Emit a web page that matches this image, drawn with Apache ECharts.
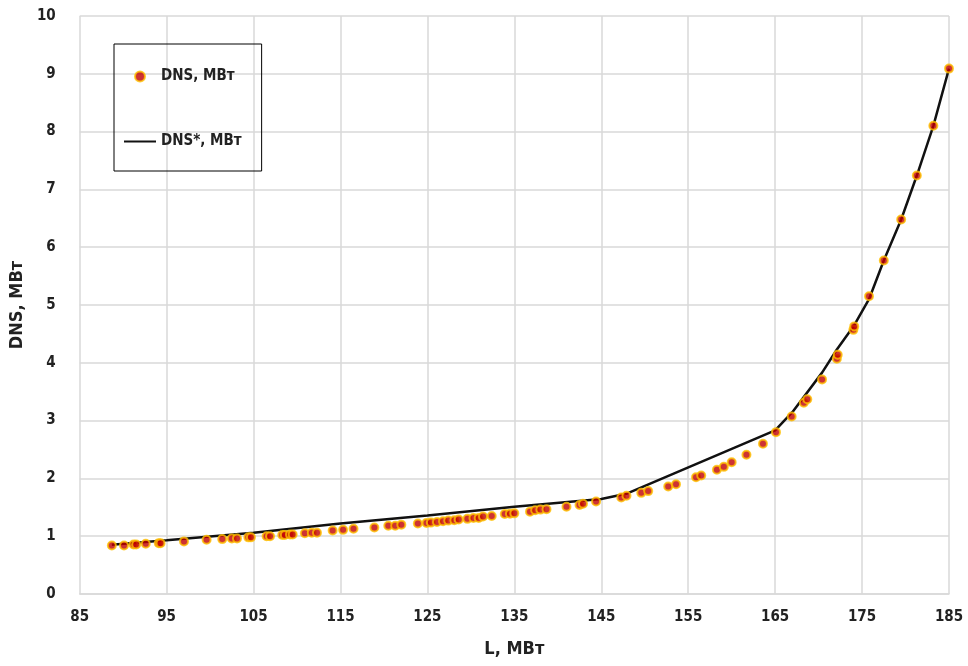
<!DOCTYPE html>
<html>
<head>
<meta charset="utf-8">
<script src="https://cdn.jsdelivr.net/npm/echarts@6/dist/echarts.min.js"></script>
<style>
  html, body { margin: 0; padding: 0; background: #fff; }
  #chart { width: 968px; height: 666px; }
</style>
</head>
<body>
<div id="chart"></div>
<script>
// DNS, МВт — measured points
var dnsL = [88.7, 90.1, 91.2, 91.5, 92.6, 94.1, 94.3, 97.0, 99.6, 101.4, 102.5, 103.1,
    104.4, 104.7, 106.5, 106.9, 108.3, 108.6, 109.2, 109.5, 110.9, 111.7, 112.3, 114.1,
    115.3, 116.5, 118.9, 120.5, 121.3, 122.0, 123.9, 124.9, 125.4, 126.1, 126.8, 127.4,
    128.1, 128.6, 129.6, 130.3, 130.9, 131.4, 132.4, 133.9, 134.5, 135.0, 136.8, 137.4,
    138.0, 138.7, 141.0, 142.5, 142.9, 144.4, 147.3, 147.9, 149.6, 150.4, 152.7, 153.6,
    155.9, 156.5, 158.3, 159.1, 160.0, 161.7, 163.6, 165.1, 166.9, 168.3, 168.7, 170.4,
    172.1, 172.2, 174.0, 174.1, 175.8, 177.5, 179.5, 181.3, 183.2, 185.0];
var dnsV = [0.84, 0.84, 0.855, 0.855, 0.87, 0.88, 0.88, 0.91, 0.94, 0.95, 0.96, 0.96,
    0.98, 0.98, 1.0, 1.0, 1.02, 1.02, 1.03, 1.03, 1.05, 1.06, 1.06, 1.10,
    1.11, 1.13, 1.15, 1.18, 1.18, 1.20, 1.22, 1.23, 1.235, 1.245, 1.26, 1.27,
    1.275, 1.29, 1.30, 1.315, 1.315, 1.34, 1.35, 1.385, 1.39, 1.395, 1.425, 1.45,
    1.46, 1.465, 1.51, 1.54, 1.56, 1.60, 1.67, 1.70, 1.75, 1.78, 1.86, 1.90,
    2.02, 2.05, 2.15, 2.20, 2.28, 2.41, 2.60, 2.80, 3.07, 3.31, 3.37, 3.71,
    4.07, 4.14, 4.57, 4.63, 5.15, 5.77, 6.48, 7.24, 8.10, 9.09];

// DNS*, МВт — model curve
var starL = [88.7, 95, 105, 115, 125, 135, 145, 148, 165, 167, 170.4, 172.1, 174.1, 175.8, 177.5, 179.5, 181.3, 183.2, 185.0];
var starV = [0.85, 0.93, 1.06, 1.22, 1.36, 1.51, 1.645, 1.74, 2.83, 3.15, 3.83, 4.23, 4.65, 5.1, 5.77, 6.48, 7.24, 8.10, 9.09];

var xTicks = [85, 185, 10];
var yTicks = [0, 10, 1];

var font = '"DejaVu Sans Condensed", "DejaVu Sans", sans-serif';

var pts = dnsL.map(function (l, i) { return [l, dnsV[i]]; });
var line = starL.map(function (l, i) { return [l, starV[i]]; });

var chart = echarts.init(document.getElementById('chart'));
chart.setOption({
    backgroundColor: '#fff',
    animation: false,
    grid: { left: 79, right: 19, top: 16, bottom: 72 },
    legend: {
        left: 114, top: 44,
        orient: 'vertical',
        borderColor: '#000', borderWidth: 1,
        padding: [25, 20, 22, 10],
        itemGap: 50,
        itemWidth: 32, itemHeight: 10,
        textStyle: { fontFamily: font, fontWeight: 'bold', fontSize: 15, color: '#222' },
        data: [
            { name: 'DNS, МВт', icon: 'circle' },
            { name: 'DNS*, МВт', icon: 'path://M0,0 L32,0 L32,2 L0,2 Z', itemStyle: { color: '#111', borderWidth: 0 } }
        ]
    },
    xAxis: {
        type: 'value',
        min: xTicks[0], max: xTicks[1], interval: xTicks[2],
        name: 'L, МВт', nameLocation: 'middle', nameGap: 46,
        nameTextStyle: { fontFamily: font, fontWeight: 'bold', fontSize: 18, color: '#222' },
        axisLine: { show: true, lineStyle: { color: '#d9d9d9', width: 1.5 } },
        axisTick: { show: false },
        axisLabel: { fontFamily: font, fontWeight: 'bold', fontSize: 15, color: '#222', margin: 16 },
        splitLine: { show: true, lineStyle: { color: '#d9d9d9', width: 1.5 } }
    },
    yAxis: {
        type: 'value',
        min: yTicks[0], max: yTicks[1], interval: yTicks[2],
        name: 'DNS, МВт', nameLocation: 'middle', nameGap: 50,
        nameTextStyle: { fontFamily: font, fontWeight: 'bold', fontSize: 18, color: '#222' },
        axisLine: { show: false },
        axisTick: { show: false },
        axisLabel: { fontFamily: font, fontWeight: 'bold', fontSize: 15, color: '#222', margin: 24 },
        splitLine: { show: true, lineStyle: { color: '#d9d9d9', width: 1.5 } }
    },
    series: [{
        name: 'DNS, МВт',
        type: 'scatter',
        data: pts,
        symbolSize: 8,
        itemStyle: { color: '#c00000', borderColor: '#ffc000', borderWidth: 2 },
        z: 3
    }, {
        name: 'DNS*, МВт',
        type: 'line',
        data: line,
        showSymbol: false,
        symbol: 'none',
        lineStyle: { color: '#111', width: 2.5 },
        itemStyle: { color: '#111' },
        z: 2
    }]
});
</script>
</body>
</html>
